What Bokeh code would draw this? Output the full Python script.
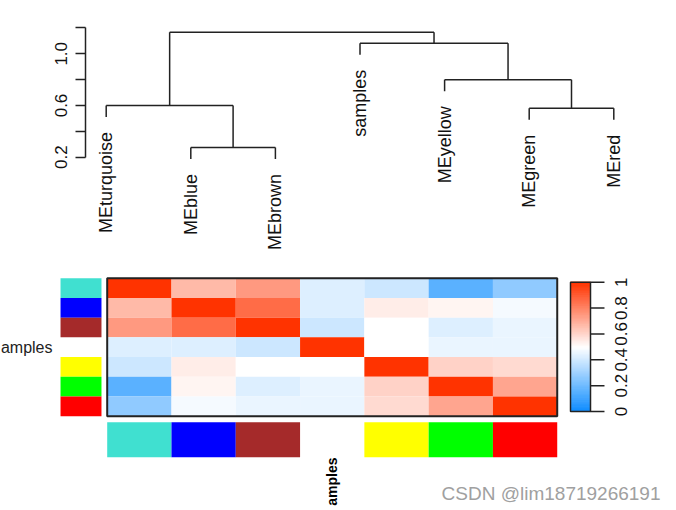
import math
import numpy as np
from bokeh.plotting import figure
from bokeh.models import Range1d, FixedTicker, PrintfTickFormatter
from bokeh.core.properties import value
from bokeh.embed import file_html
from bokeh.resources import INLINE

# ---------------- data ----------------
modules = ["MEturquoise", "MEblue", "MEbrown", "samples", "MEyellow", "MEgreen", "MEred"]
module_colors = ["#40E0D0", "#0000FF", "#A52A2A", None, "#FFFF00", "#00FF00", "#FF0000"]

# dendrogram merges (negative = leaf number in plotted order, positive = earlier merge number)
merge_left = [-2, -6, -1, -5, -4, 3]
merge_right = [-3, -7, 1, 2, 4, 5]
merge_height = [0.275, 0.579, 0.600, 0.799, 1.082, 1.167]

dendro_major_ticks = [0.2, 0.6, 1.0]
dendro_minor_ticks = [0.4, 0.8, 1.2]

# eigengene adjacency (rows/cols in plotted order)
adj_turquoise = [1.00, 0.67, 0.75, 0.43, 0.395, 0.16, 0.27]
adj_blue = [0.67, 1.00, 0.86, 0.43, 0.545, 0.525, 0.48]
adj_brown = [0.75, 0.86, 1.00, 0.395, 0.50, 0.43, 0.457]
adj_samples = [0.43, 0.43, 0.395, 1.00, 0.50, 0.457, 0.457]
adj_yellow = [0.395, 0.545, 0.50, 0.50, 1.00, 0.61, 0.59]
adj_green = [0.16, 0.525, 0.43, 0.457, 0.61, 1.00, 0.72]
adj_red = [0.27, 0.48, 0.457, 0.457, 0.59, 0.72, 1.00]
adjacency = [adj_turquoise, adj_blue, adj_brown, adj_samples, adj_yellow, adj_green, adj_red]

legend_ticks = [0, 0.2, 0.4, 0.6, 0.8, 1]
legend_labels = ["0", "0.2", "0.4", "0.6", "0.8", "1"]

FONT = "Liberation Sans"


def bwr(v):
    """blue-white-red colour for a value in [0, 1]"""
    if v >= 0.5:
        t = (v - 0.5) / 0.5
        r, g, b = 1.0, 1.0 - 0.8 * t, 1.0 - t
    else:
        s = (0.5 - v) / 0.5
        r, g, b = 1.0 - 0.95 * s, 1.0 - 0.45 * s, 1.0
    return "#%02x%02x%02x" % (round(r * 255), round(g * 255), round(b * 255))


n = len(modules)

# ---------------- top: dendrogram ----------------
p1 = figure(width=672, height=262, output_backend="svg", toolbar_location=None,
            x_range=Range1d(0.7553, 7.3156), y_range=Range1d(-0.6147, 1.2576),
            x_axis_location=None, min_border_left=85, min_border_right=32,
            min_border_top=20, min_border_bottom=0)
p1.outline_line_color = None
p1.grid.grid_line_color = None

hang = 0.1 * (max(merge_height) - min(merge_height))
node_x = {}
leaf_bottom = [0.0] * n
x0, y0, x1, y1 = [], [], [], []


def child(c, h):
    if c < 0:
        yb = h - hang
        leaf_bottom[-c - 1] = yb
        return float(-c), yb
    return node_x[c], merge_height[c - 1]


for k, (l, r, h) in enumerate(zip(merge_left, merge_right, merge_height), start=1):
    xl, yl = child(l, h)
    xr, yr = child(r, h)
    x0 += [xl, xr, xl]
    y0 += [yl, yr, h]
    x1 += [xl, xr, xr]
    y1 += [h, h, h]
    node_x[k] = (xl + xr) / 2

p1.segment(x0=x0, y0=y0, x1=x1, y1=y1, line_color="#222222", line_width=1.5)
p1.text(x=list(range(1, n + 1)), y=leaf_bottom, text=modules, angle=math.pi / 2,
        text_align="right", text_baseline="middle", y_offset=15,
        text_font=value(FONT), text_font_size="18px", text_color="#111111")

ax = p1.yaxis[0]
ax.ticker = FixedTicker(ticks=dendro_major_ticks, minor_ticks=dendro_minor_ticks)
ax.formatter = PrintfTickFormatter(format="%.1f")
ax.bounds = (min(dendro_major_ticks), max(dendro_minor_ticks))
ax.major_label_orientation = "vertical"
ax.major_label_text_font = FONT
ax.major_label_text_font_size = "17px"
ax.major_label_text_color = "#111111"
ax.major_label_standoff = 8
ax.major_tick_in = 0
ax.major_tick_out = 10
ax.minor_tick_in = 0
ax.minor_tick_out = 10
for attr in ("axis_line", "major_tick_line", "minor_tick_line"):
    setattr(ax, attr + "_color", "#222222")
    setattr(ax, attr + "_width", 1.5)

# ---------------- bottom: heatmap ----------------
p2 = figure(width=672, height=244, output_backend="svg", toolbar_location=None,
            x_range=Range1d(-1.6597, 8.793), y_range=Range1d(11.581, -0.7964),
            x_axis_location=None, y_axis_location=None, min_border=0,
            min_border_left=0, min_border_right=0, min_border_top=0, min_border_bottom=0)
p2.outline_line_color = None
p2.grid.grid_line_color = None

left, right, top, bottom, fills = [], [], [], [], []
for i in range(n):
    for j in range(n):
        left.append(j); right.append(j + 1)
        top.append(i); bottom.append(i + 1)
        fills.append(bwr(adjacency[i][j]))
p2.quad(left=left, right=right, top=top, bottom=bottom, fill_color=fills, line_color=None)
p2.quad(left=[0], right=[n], top=[0], bottom=[n], fill_color=None,
        line_color="#222222", line_width=2)

# module colour bars (layout positions in cell units)
SIDE_L, SIDE_R = -0.726, -0.089
BOT_T, BOT_B = 7.306, 9.082
idx = [i for i in range(n) if module_colors[i]]
cols = [module_colors[i] for i in idx]
p2.quad(left=[SIDE_L] * len(idx), right=[SIDE_R] * len(idx), top=idx,
        bottom=[i + 1 for i in idx], fill_color=cols, line_color=None)
p2.quad(left=idx, right=[i + 1 for i in idx], top=[BOT_T] * len(idx),
        bottom=[BOT_B] * len(idx), fill_color=cols, line_color=None)

p2.text(x=[-0.851], y=[3.5], text=["amples"], text_align="right", text_baseline="middle",
        text_font=value(FONT), text_font_size="16px", text_color="#222222")
p2.text(x=[3.5], y=[9.095], text=["amples"], angle=math.pi / 2, text_align="right",
        text_baseline="middle", text_font=value(FONT), text_font_size="14px",
        text_font_style="bold", text_color="#000000")

# colour legend
CB_L, CB_R, CB_TOP, CB_BOT = 7.2065, 7.5176, 0.203, 6.762
TICK_R, LAB_X = 7.735, 7.985


def cb_y(v):
    return CB_BOT - v * (CB_BOT - CB_TOP)


steps = np.linspace(0, 1, 101)
grad = [bwr((a + b) / 2) for a, b in zip(steps[:-1], steps[1:])]
p2.quad(left=CB_L, right=CB_R, top=[cb_y(b) for b in steps[1:]],
        bottom=[cb_y(a) for a in steps[:-1]],
        fill_color=grad, line_color=grad, line_width=1)
p2.quad(left=[CB_L], right=[CB_R], top=[CB_TOP], bottom=[CB_BOT], fill_color=None,
        line_color="#222222", line_width=1.5)
ty = [cb_y(v) for v in legend_ticks]
p2.segment(x0=[CB_R] * len(ty), y0=ty, x1=[TICK_R] * len(ty), y1=ty,
           line_color="#222222", line_width=1.5)
p2.text(x=[LAB_X] * len(ty), y=ty, text=legend_labels, angle=math.pi / 2,
        text_align="center", text_baseline="middle", text_font=value(FONT),
        text_font_size="17px", text_color="#111111")

# watermark
p2.text(x=[8.606], y=[10.92], text=["CSDN @lim18719266191"], text_align="right",
        text_baseline="middle", text_font=value(FONT), text_font_size="19px",
        text_color="#a0a0a0")

open("out.html", "w").write(file_html([p1, p2], INLINE))
